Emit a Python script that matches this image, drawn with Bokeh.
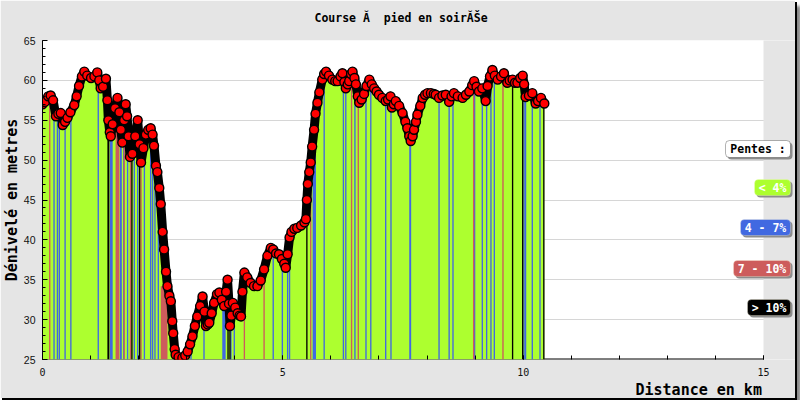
import numpy as np
from bokeh.plotting import figure
from bokeh.models import Range1d, FixedTicker, Label, BoxAnnotation, Title
from bokeh.embed import file_html
from bokeh.resources import INLINE

# ---------------- data ----------------
distance_km = [
    0.00, 0.05, 0.12, 0.17, 0.22, 0.28, 0.33, 0.38, 0.42, 0.47, 0.52, 0.58, 0.66, 0.71, 0.76,
    0.82, 0.87, 0.93, 1.01, 1.08, 1.14, 1.18, 1.21, 1.26, 1.32, 1.35, 1.37, 1.40, 1.42, 1.46,
    1.51, 1.56, 1.60, 1.63, 1.66, 1.70, 1.73, 1.76, 1.79, 1.82, 1.87, 1.93, 1.98, 2.02, 2.05,
    2.10, 2.15, 2.20, 2.25, 2.29, 2.32, 2.36, 2.39, 2.43, 2.46, 2.50, 2.53, 2.57, 2.60, 2.64,
    2.67, 2.70, 2.72, 2.75, 2.77, 2.83, 2.91, 2.97, 3.02, 3.07, 3.12, 3.17, 3.22, 3.28, 3.33,
    3.37, 3.40, 3.44, 3.47, 3.52, 3.57, 3.63, 3.68, 3.73, 3.78, 3.82, 3.85, 3.88, 3.90, 3.93,
    3.96, 4.01, 4.06, 4.10, 4.13, 4.16, 4.20, 4.26, 4.33, 4.40, 4.47, 4.54, 4.61, 4.68, 4.75,
    4.80, 4.86, 4.92, 4.98, 5.03, 5.06, 5.10, 5.14, 5.18, 5.24, 5.30, 5.38, 5.45, 5.48, 5.50,
    5.52, 5.55, 5.58, 5.61, 5.65, 5.68, 5.72, 5.76, 5.82, 5.86, 5.90, 5.96, 6.03, 6.09, 6.14,
    6.20, 6.24, 6.28, 6.31, 6.35, 6.38, 6.42, 6.45, 6.49, 6.52, 6.56, 6.59, 6.64, 6.69, 6.74,
    6.80, 6.85, 6.90, 6.95, 7.00, 7.07, 7.14, 7.19, 7.24, 7.27, 7.31, 7.35, 7.42, 7.49, 7.55,
    7.59, 7.63, 7.66, 7.70, 7.73, 7.77, 7.80, 7.86, 7.91, 7.96, 8.01, 8.08, 8.14, 8.18, 8.25,
    8.32, 8.39, 8.46, 8.51, 8.56, 8.64, 8.74, 8.81, 8.88, 8.94, 8.98, 9.03, 9.08, 9.15, 9.22,
    9.26, 9.31, 9.36, 9.41, 9.47, 9.54, 9.60, 9.67, 9.72, 9.78, 9.83, 9.88, 9.94, 9.99, 10.02,
    10.05, 10.12, 10.19, 10.26, 10.31, 10.37, 10.44,
]
elevation_m = [
    57.0, 57.3, 58.0, 58.1, 57.5, 55.5, 55.8, 55.9, 54.4, 54.8, 55.3, 56.0, 56.9, 58.0, 59.3,
    60.5, 61.1, 60.6, 60.3, 60.5, 61.0, 60.0, 59.0, 59.2, 60.2, 57.5, 55.0, 53.5, 53.0, 54.5,
    56.5, 57.8, 56.0, 53.8, 52.2, 55.0, 57.0, 55.5, 53.0, 50.4, 50.8, 53.0, 55.0, 52.0, 49.7,
    51.5, 53.2, 53.8, 54.0, 53.2, 51.8, 49.3, 48.5, 46.5, 44.5, 41.0, 38.8, 36.0, 34.2, 33.0,
    32.3, 29.8, 28.3, 26.3, 25.6, 25.3, 25.2, 25.5, 26.0, 26.9, 27.9, 29.2, 30.4, 31.7, 32.9,
    31.0, 29.2, 29.4, 29.6, 30.8, 32.1, 33.2, 33.4, 32.5, 31.7, 33.5, 35.0, 32.0, 29.2, 30.5,
    32.1, 31.5, 30.8, 30.5, 30.4, 33.5, 35.9, 35.3, 34.6, 34.2, 34.2, 34.9, 36.3, 38.0, 39.0,
    38.8, 38.3, 38.2, 37.6, 37.0, 36.5, 38.2, 40.3, 41.0, 41.4, 41.5, 41.8, 42.2, 42.6, 45.0,
    47.0, 48.5, 49.7, 51.7, 53.8, 55.8, 57.2, 58.5, 60.1, 60.8, 61.1, 60.6, 60.1, 59.9, 59.9,
    60.5, 60.9, 59.8, 59.0, 59.5, 59.9, 60.8, 61.1, 60.3, 59.5, 58.0, 57.2, 57.6, 58.3, 59.3,
    60.1, 59.5, 59.0, 58.6, 58.2, 57.8, 57.4, 57.6, 58.0, 56.6, 57.0, 57.4, 56.8, 55.9, 54.8,
    54.0, 53.0, 52.4, 53.0, 53.8, 54.8, 55.7, 56.8, 57.8, 58.2, 58.4, 58.4, 58.3, 58.2, 57.8,
    58.1, 58.2, 57.3, 58.0, 58.4, 58.0, 57.8, 58.2, 58.6, 59.4, 59.9, 59.2, 58.6, 59.0, 57.4,
    59.3, 60.5, 61.3, 60.6, 60.1, 60.5, 60.9, 59.7, 60.0, 60.1, 59.7, 59.7, 60.3, 60.6, 59.5,
    57.9, 58.1, 58.4, 57.1, 57.4, 57.8, 57.1,
]

# slope-class stripes (km): thin stripes and wider bands
blue_thin_km = [0.24, 0.31, 0.35, 0.47, 0.59, 1.16, 1.69, 1.77, 1.91, 1.98, 2.12, 2.25, 2.29,
                2.34, 2.41, 3.09, 3.36, 3.92, 3.99, 4.80, 4.99, 5.10, 5.14, 5.86, 6.26, 6.31,
                6.50, 6.73, 6.83, 7.14, 7.25, 8.25, 8.46, 8.54, 8.99, 9.15, 9.24, 9.33, 9.40,
                10.02, 10.05, 10.19, 10.35]
blue_band_start_km = [1.40, 1.61, 3.74, 5.62, 7.63]
blue_band_end_km = [1.46, 1.65, 3.81, 5.69, 7.67]
red_thin_km = [0.15, 1.70, 1.83, 2.05, 4.20, 4.61, 5.58, 6.43, 6.57, 8.97, 9.58]
red_band_start_km = [1.52, 2.46]
red_band_end_km = [1.60, 2.60]
black_thin_km = [1.86, 2.02, 3.86, 3.90, 5.50, 9.78, 9.99, 10.43]
black_band_start_km = [1.35]
black_band_end_km = [1.39]

x_axis_max_km = 15
y_major_ticks = [25, 30, 35, 40, 45, 50, 55, 60, 65]
y_minor_ticks = list(range(25, 66))
x_major_ticks = [0, 5, 10, 15]
x_minor_ticks = list(range(0, 16))

legend_labels = ["< 4%", "4 - 7%", "7 - 10%", "> 10%"]
legend_colors = ["#adff2f", "#4169e1", "#cd5c5c", "#000000"]

title_text = "Course Ă\u00a0 pied en soirĂŠe"
x_title = "Distance en km"
y_title = "Dénivelé en metres"

# ---------------- figure ----------------
GREEN, BLUE, RED, BLACK = legend_colors
MONO = "DejaVu Sans Mono"
GRAY = "#e5e5e5"
PX_PER_KM = 721 / 15.0
FRAME_W = 753                        # plot area + right margin strip (kept inside the frame)
x_end = FRAME_W / PX_PER_KM

p = figure(frame_width=FRAME_W, frame_height=319,
           x_range=Range1d(0, x_end), y_range=Range1d(25, 65),
           output_backend="svg", toolbar_location=None,
           min_border_left=40, min_border_right=0, min_border_top=40, min_border_bottom=30,
           background_fill_color="white", border_fill_color=GRAY)
p.outline_line_color = None
p.styles = {"box-shadow": "2px 2px 0px #000000, 6px 6px 3px #8a8a8a"}

# titles (trailing line break lifts the title text away from the plot area)
p.title.text = title_text + "\n"
p.title.align = "left"
p.title.offset = 272
p.title.standoff = 10
p.title.text_line_height = 0.75
p.title.text_font = MONO
p.title.text_font_size = "11.5px"
p.title.text_font_style = "bold"
p.title.text_color = "black"

p.add_layout(Title(text=x_title, align="left", offset=593, standoff=0, text_font=MONO,
                   text_font_size="15px", text_font_style="bold", text_color="black"), "below")
p.add_layout(Title(text=y_title, align="center", standoff=0, text_font=MONO,
                   text_font_size="15px", text_font_style="bold", text_color="black"), "left")

p.xgrid.visible = False
p.ygrid.ticker = FixedTicker(ticks=y_major_ticks)
p.ygrid.grid_line_color = "#d6d6d6"

xa = p.xaxis[0]
xa.ticker = FixedTicker(ticks=x_major_ticks, minor_ticks=x_minor_ticks)
xa.major_tick_in = 4
xa.major_tick_out = 0
xa.minor_tick_in = 4
xa.minor_tick_out = 0
xa.axis_line_color = None
xa.major_tick_line_color = "black"
xa.minor_tick_line_color = "black"
xa.major_label_text_font = MONO
xa.major_label_text_font_size = "10px"
xa.major_label_text_color = "#111111"
xa.major_label_standoff = 8

ya = p.yaxis[0]
ya.ticker = FixedTicker(ticks=y_major_ticks, minor_ticks=y_minor_ticks)
ya.major_tick_in = 5
ya.major_tick_out = 0
ya.minor_tick_in = 3
ya.minor_tick_out = 0
ya.axis_line_color = "black"
ya.major_tick_line_color = "black"
ya.minor_tick_line_color = "black"
ya.major_label_text_font = "Liberation Sans"
ya.major_label_text_font_size = "10.5px"
ya.major_label_text_color = "#111111"
ya.major_label_standoff = 7

# gray strip right of the 15 km limit (outside the drawn plot area)
p.quad(left=x_axis_max_km, right=x_end + 1, bottom=0, top=100, fill_color=GRAY, line_color=None)
# bottom axis line only up to 15 km
p.segment(x0=0, y0=25, x1=x_axis_max_km, y1=25, line_color="black", line_width=2)

# area under the profile
p.varea(x=distance_km, y1=25, y2=elevation_m, fill_color=GREEN, fill_alpha=1)

# slope stripes
dist = np.array(distance_km)
elev = np.array(elevation_m)
half = 0.014

def add_stripes(lefts, rights, color):
    lefts = np.array(lefts, dtype=float)
    rights = np.array(rights, dtype=float)
    mids = (lefts + rights) / 2
    tops = np.minimum(np.interp(lefts, dist, elev), np.interp(rights, dist, elev))
    tops = np.minimum(tops, np.interp(mids, dist, elev))
    p.quad(left=lefts, right=rights, bottom=25, top=tops, fill_color=color, line_color=None)

for thin, bs, be, col in [(blue_thin_km, blue_band_start_km, blue_band_end_km, BLUE),
                          (red_thin_km, red_band_start_km, red_band_end_km, RED),
                          (black_thin_km, black_band_start_km, black_band_end_km, BLACK)]:
    t = np.array(thin)
    add_stripes(list(t - half) + bs, list(t + half) + be, col)

# profile markers
p.line(distance_km, elevation_m, line_color="black", line_width=9, line_join="round", line_cap="round")
p.scatter(distance_km, elevation_m, size=9, fill_color="#ff0000", line_color="black", line_width=1.4)

# legend boxes (frame-relative screen coords)
boxes = [  # left, right, top, bottom
    (683, 748, 219, 202),
    (712, 748, 180, 164),
    (698, 748, 140, 124),
    (691, 748, 99, 83),
    (705, 748, 60, 44),
]
texts = ["Pentes :"] + legend_labels
fills = ["white"] + legend_colors
borders = ["black", "#fff8dc", "#fff8dc", "#fff8dc", "#fff8dc"]
tcolors = ["black", "white", "white", "white", "white"]
for (l, r, t, b), txt, fc, bc, tc in zip(boxes, texts, fills, borders, tcolors):
    p.add_layout(BoxAnnotation(left=l + 2, right=r + 2, top=t - 2, bottom=b - 2,
                               left_units="screen", right_units="screen",
                               top_units="screen", bottom_units="screen",
                               fill_color="#8c8c8c", fill_alpha=1, line_color=None,
                               border_radius=4))
    p.add_layout(BoxAnnotation(left=l, right=r, top=t, bottom=b,
                               left_units="screen", right_units="screen",
                               top_units="screen", bottom_units="screen",
                               fill_color=fc, fill_alpha=1, line_color=bc, line_width=1,
                               border_radius=4))
    p.add_layout(Label(x=(l + r) / 2, y=(t + b) / 2, x_units="screen", y_units="screen",
                       text=txt, text_align="center", text_baseline="middle", text_font=MONO,
                       text_font_size="11.5px", text_font_style="bold", text_color=tc))

open("out.html", "w").write(file_html(p, INLINE))
